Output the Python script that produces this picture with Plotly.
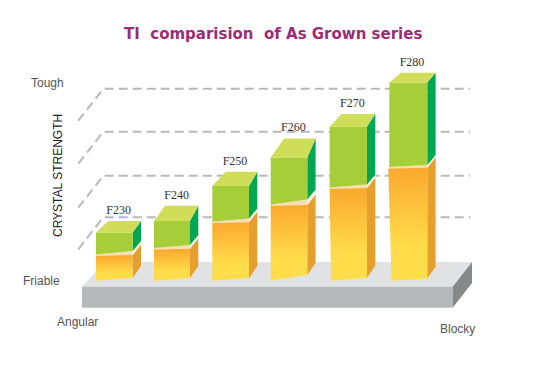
import plotly.graph_objects as go

# ---- data ----
grades = ["F230", "F240", "F250", "F260", "F270", "F280"]
lower_values = [25.0, 31.3, 57.7, 75.0, 92.0, 112.3]
upper_values = [23.3, 28.4, 37.0, 48.3, 62.3, 86.0]
grid_levels = [63.4, 105.0, 149.0, 192.0]

# ---- geometry and style ----
W, H = 557, 369
BASE = 280.7
def Y(p):
    return BASE - p

LEFT = [96, 154, 212.3, 270.7, 329.7, 389.3]
BAR_W = [36.7, 36, 36.7, 36.6, 37.3, 38]
LEAN = [0, 0, 0, 0, 1.3, 2.3]
BOTTOM_TILT = [2.7, 2.7, 2.7, 5.6, 3, 2.2]
GREEN_TILT = [3.3, 3, 3, 4.7, 2.7, 2]
TOP_DEPTH = [11.3, 15.3, 14.3, 19, 12.3, 9.7]
BACK_LEFT = [12.3, 11, 13.3, 13.3, 12, 11.7]
SIDE_DX = 8.3
SIDE_DY = 12
BAND_GAP = 1.3

GREEN_TOP, GREEN_FRONT, GREEN_SIDE = "#CFDD58", "#A5CE39", "#00A651"
ORANGE_SIDE, ORANGE, YELLOW = "#E59F2E", "#FBA92F", "#FFDC4A"
BAND, BAND_SIDE = "#F6DFB2", "#FBF0DC"
GRID = "#B9B9B9"

fig = go.Figure()

def poly(xs, ys, color, gradient=None):
    kw = dict(fillcolor=color) if gradient is None else dict(fillgradient=gradient)
    fig.add_trace(go.Scatter(x=xs + xs[:1], y=ys + ys[:1], mode="lines", fill="toself",
                             line=dict(width=0), hoverinfo="skip", showlegend=False, **kw))

# dashed reference planes
for lv in grid_levels:
    fig.add_trace(go.Scatter(x=[78.3, 103.3, 470], y=[lv - 32, lv, lv], mode="lines",
                             line=dict(color=GRID, width=2, dash="9px,5px"),
                             hoverinfo="skip", showlegend=False))

# platform
poly([82, 105, 472, 452.7], [Y(286.7), Y(262), Y(262), Y(286.7)], "#E1E2E4")
poly([82, 452.7, 452.7, 82], [Y(286.7), Y(286.7), Y(307.7), Y(307.7)], "#B7B8BB")
poly([452.7, 472, 472, 452.7], [Y(286.7), Y(262), Y(283), Y(307.7)], "#87888A")

# bars
for i, g in enumerate(grades):
    lo, up = lower_values[i], upper_values[i]
    tot = lo + up
    l = LEFT[i]
    r = l + BAR_W[i]
    bl = l + LEAN[i]
    lo_l = l - (1 if LEAN[i] > 2 else 0)
    d = SIDE_DX
    tilt = BOTTOM_TILT[i]
    gt = GREEN_TILT[i]
    gb = lo + BAND_GAP

    # orange side
    poly([r, r + d, r + d, r], [tilt, tilt + SIDE_DY, lo + 0.7 + SIDE_DY - 1.5, lo + 0.7], ORANGE_SIDE)
    # band
    poly([lo_l, r, r, l], [lo, lo + 0.7, lo + 1.5 + gt, gb], BAND)
    poly([r, r + d, r + d, r], [lo + 0.7, lo + 0.7 + SIDE_DY - 1.5, lo + 1.5 + gt + SIDE_DY - 2,
                               lo + 1.5 + gt], BAND_SIDE)
    # orange front
    poly([bl, r, r, lo_l], [0, tilt, lo + 0.7, lo], ORANGE,
         gradient=dict(type="vertical", start=0, stop=lo,
                       colorscale=[[0, YELLOW], [0.3, YELLOW], [1, ORANGE]]))
    # green side
    poly([r, r + d, r + d, r], [lo + 1.5 + gt, lo + 1.5 + gt + SIDE_DY - 2, tot + TOP_DEPTH[i], tot], GREEN_SIDE)
    # green front
    poly([l, r, r, l], [gb, lo + 1.5 + gt, tot, tot], GREEN_FRONT)
    # top
    poly([l, r, r + d, l + BACK_LEFT[i]], [tot, tot, tot + TOP_DEPTH[i], tot + TOP_DEPTH[i]], GREEN_TOP)

# grade labels
fig.add_trace(go.Scatter(
    x=[LEFT[i] + 22.7 for i in range(len(grades))],
    y=[lower_values[i] + upper_values[i] + TOP_DEPTH[i] + 10 for i in range(len(grades))],
    text=grades, mode="text", textposition="middle center",
    textfont=dict(family="Liberation Serif", size=12, color="#333333"),
    hoverinfo="skip", showlegend=False))

def label(txt, x, yp, size=12, color="#555555", family="Liberation Sans", angle=0, bold=False):
    fig.add_annotation(x=x, y=Y(yp), text=f"<b>{txt}</b>" if bold else txt, showarrow=False,
                       textangle=angle, xanchor="center", yanchor="middle",
                       font=dict(family=family, size=size, color=color))

label("TI\u00a0\u00a0comparision\u00a0\u00a0of As Grown series", 273, 34, size=15, color="#9B2C77",
      family="DejaVu Sans", bold=True)
label("Tough", 47, 83)
label("Friable", 41.5, 281)
label("Angular", 77.5, 322)
label("Blocky", 457.5, 329)
label("CRYSTAL STRENGTH", 58, 176, size=12, color="#222222", angle=-90)

fig.update_layout(
    width=W, height=H, margin=dict(l=0, r=0, t=0, b=0),
    paper_bgcolor="white", plot_bgcolor="white", showlegend=False,
    xaxis=dict(range=[0, W], visible=False, fixedrange=True),
    yaxis=dict(range=[BASE - H, BASE], visible=False, fixedrange=True),
)
fig.write_html("out.html", config={"displayModeBar": False},
               post_script="document.body.style.margin='0';document.body.style.overflow='hidden';")
